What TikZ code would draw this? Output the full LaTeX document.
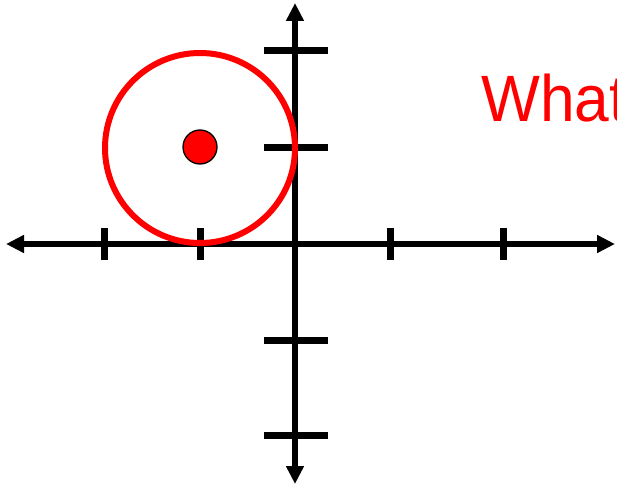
\documentclass[tikz,border=0pt]{standalone}
\usepackage{fontspec}
\setmainfont{Liberation Sans}
\usetikzlibrary{arrows.meta}
\definecolor{pured}{RGB}{255,0,0}
\begin{document}
\begin{tikzpicture}[x=1pt,y=-1pt,
  axis/.style={line width=6pt,-{Triangle[length=18pt,width=17pt]}},
  tickmark/.style={line width=7pt},
  ring/.style={draw=pured,line width=6pt},
  dot/.style={circle,fill=pured,draw=black,line width=1.3pt,minimum size=34pt,inner sep=0pt}]
\useasboundingbox (0,0) rectangle (617,486);
\coordinate (O) at (295,244);
\coordinate (L) at (6,244);
\coordinate (R) at (615,244);
\coordinate (T) at (295,3);
\coordinate (B) at (295,484);
\draw[axis] (O) -- (L);
\draw[axis] (O) -- (R);
\draw[axis] (O) -- (T);
\draw[axis] (O) -- (B);
% x ticks
\foreach \x in {104,200,390,503}
  \draw[tickmark] (\x,228) -- (\x,260);
% y ticks
\foreach \y in {51,148,340,435}
  \draw[tickmark] (264,\y) -- (328,\y);
\draw[ring] (200,148) circle[radius=95];
\node[dot] (P) at (200,147) {};
\node[anchor=base west,text=pured,inner sep=0pt,font=\fontsize{65.6pt}{70pt}\selectfont] (W) at (481,122) {\scalebox{0.95}[1]{What}};
\end{tikzpicture}
\end{document}
